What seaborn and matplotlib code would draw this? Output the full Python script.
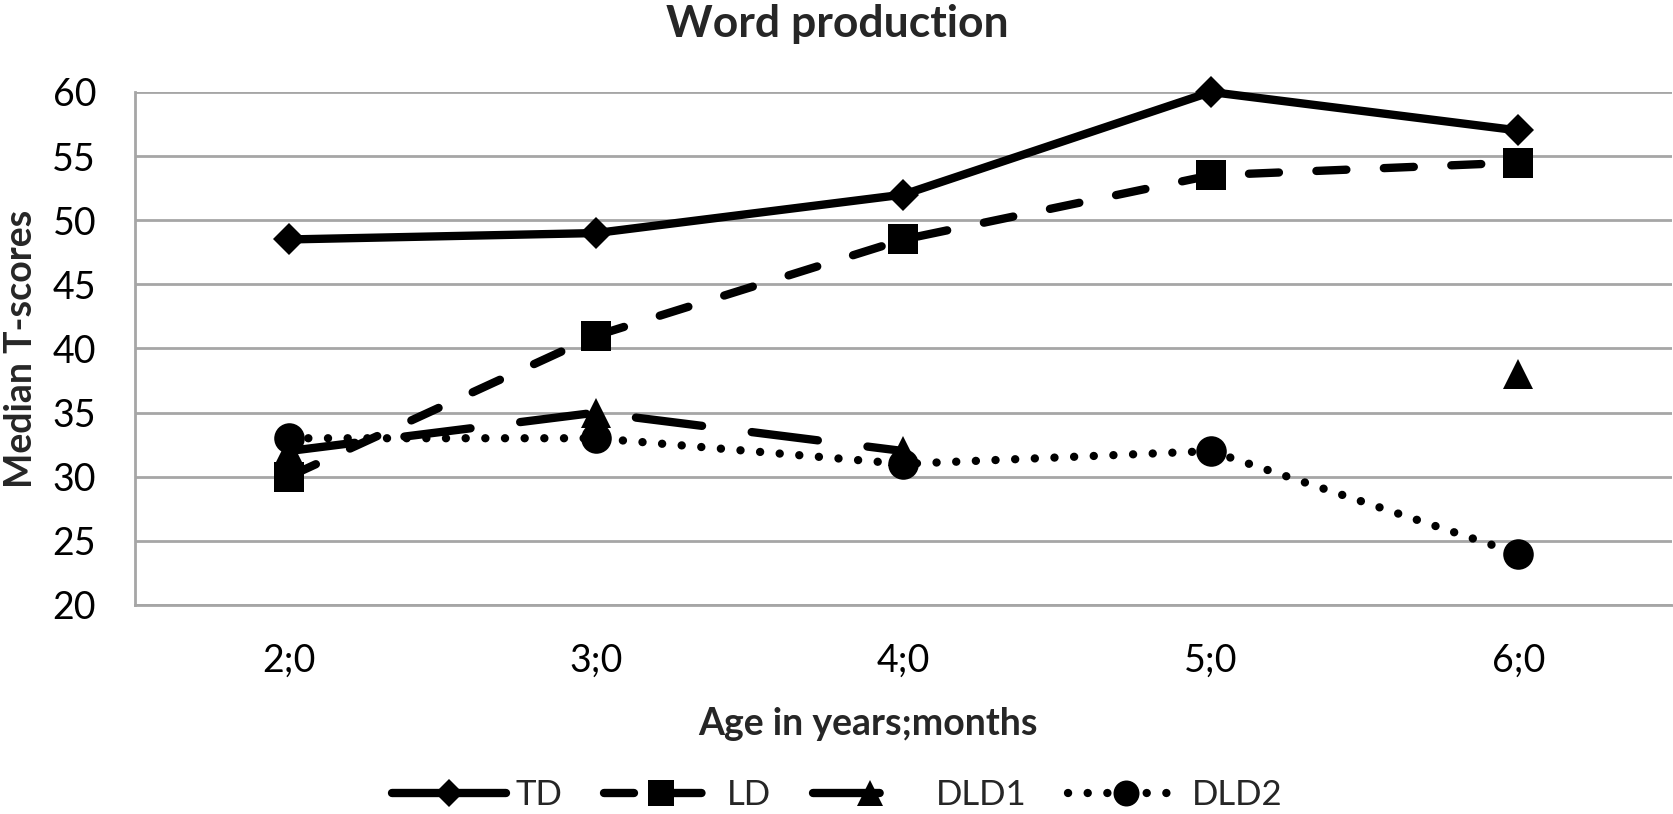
import matplotlib
matplotlib.use("Agg")
import matplotlib.pyplot as plt
from matplotlib.lines import Line2D
import seaborn as sns
import numpy as np
import pandas as pd

ages = ["2;0", "3;0", "4;0", "5;0", "6;0"]
groups = ["TD", "LD", "DLD1", "DLD2"]
td = [48.5, 49, 52, 60, 57]
ld = [30, 41, 48.5, 53.5, 54.5]
dld1 = [32, 35, 32, np.nan, 38]   # no value at 5;0
dld2 = [33, 33, 31, 32, 24]
yticks = [20, 25, 30, 35, 40, 45, 50, 55, 60]

# long form table, a new "seg" starts after each gap so lines break there
rows = []
for g, vals in zip(groups, [td, ld, dld1, dld2]):
    seg = 0
    for a, v in zip(ages, vals):
        if np.isnan(v):
            seg += 1
            continue
        rows.append({"group": g, "age": a, "score": v, "seg": f"{g}{seg}"})
df = pd.DataFrame(rows)

LW = 6
markers = {"TD": "D", "LD": "s", "DLD1": "^", "DLD2": "o"}
msizes = {"TD": 16.5, "LD": 22, "DLD1": 22, "DLD2": 22}
styles = {"TD": "-", "LD": (0, (3.6, 4.5)), "DLD1": (0, (8, 6)), "DLD2": (0, (0.01, 2.35))}

sns.set_theme(style="white")
plt.rcParams["font.family"] = ["Lato", "DejaVu Sans"]

fig = plt.figure(figsize=(16.74, 8.14), dpi=100)
ax = fig.add_axes([0.0806, 0.2568, 0.9182, 0.6302])

for g in groups:
    sub = df[df["group"] == g]
    sns.lineplot(data=sub, x="age", y="score", units="seg", estimator=None,
                 sort=False, ax=ax, color="black", lw=LW, linestyle=styles[g],
                 marker=markers[g], ms=msizes[g], mec="black", mfc="black",
                 mew=0, dash_capstyle="round", solid_capstyle="round",
                 solid_joinstyle="round", dash_joinstyle="round",
                 clip_on=False, legend=False)

ax.set_xlim(-0.5, 4.5)
ax.set_ylim(20, 60)
ax.set_yticks(yticks)
ax.set_xlabel("")
ax.set_ylabel("")
ax.yaxis.grid(True, color="#a6a6a6", lw=2)
ax.xaxis.grid(False)
ax.set_axisbelow(True)
for s in ["top", "right"]:
    ax.spines[s].set_visible(False)
for s in ["left", "bottom"]:
    ax.spines[s].set_color("#a6a6a6")
    ax.spines[s].set_linewidth(2)
ax.tick_params(axis="both", length=0, labelsize=27, colors="black")
ax.tick_params(axis="x", pad=27)
ax.tick_params(axis="y", pad=28)

fig.text(0.5, 1 - 37 / 814, "Word production", ha="center", va="baseline",
         fontsize=32, fontweight="bold")
fig.text(868 / 1674, 1 - 735 / 814, "Age in years;months", ha="center",
         va="baseline", fontsize=27, fontweight="bold")
fig.text(21 / 1674, 0.572, "Median T-scores", ha="center", va="center",
         rotation=90, fontsize=27, fontweight="bold")

handles = [Line2D([], [], color="black", lw=LW, linestyle=styles[g],
                  marker=markers[g], ms=msizes[g], mew=0,
                  dash_capstyle="round", solid_capstyle="round")
           for g in groups]
fig.legend(handles, groups, loc="center", bbox_to_anchor=(0.5, 1 - 795 / 814),
           ncol=4, frameon=False, fontsize=25, handlelength=3.3,
           handletextpad=0.25, columnspacing=1.2, markerscale=0.85)

fig.savefig("out.png", dpi=100)
